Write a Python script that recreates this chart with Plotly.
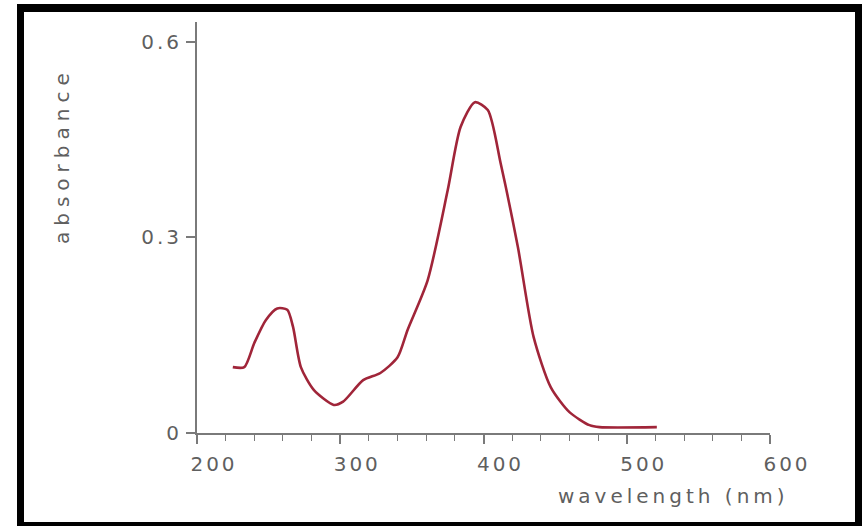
import plotly.graph_objects as go

# Data
wavelength_nm = [225, 233, 240, 248, 256, 263, 267, 272.5, 281.5, 295.5, 302, 316, 328,
                 340, 347, 361, 375, 384, 394, 403, 412, 424, 435, 447, 460, 474, 481, 521]
absorbance = [0.101, 0.101, 0.138, 0.173, 0.191, 0.189, 0.163, 0.101, 0.066, 0.043, 0.048,
              0.081, 0.092, 0.116, 0.158, 0.234, 0.372, 0.469, 0.507, 0.495, 0.413, 0.285,
              0.147, 0.070, 0.032, 0.012, 0.009, 0.009]

x_ticks = [200, 300, 400, 500, 600]
x_tick_labels = ["200", "300", "400", "500", "600"]
y_ticks = [0, 0.3, 0.6]
y_tick_labels = ["0", "0.3", "0.6"]

W, H = 862, 526
L, R, T, B = 197, 770, 22, 433  # plot area in pixels

def px(x):
    return (x - L) / (R - L)

def py(y):
    return (B - y) / (B - T)

fig = go.Figure()
fig.add_trace(go.Scatter(
    x=wavelength_nm, y=absorbance, mode="lines",
    line=dict(color="#a02539", width=2.6, shape="spline", smoothing=0.7),
    hoverinfo="skip", showlegend=False,
))

text_col = "#5f5f5f"
font_tick = dict(family="DejaVu Sans", size=20, color=text_col)
axis_col = "#7a7a7a"

fig.update_xaxes(
    range=[200, 600], tickvals=x_ticks, ticktext=x_tick_labels,
    showline=True, linecolor=axis_col, linewidth=1.8, showgrid=False, zeroline=False,
    ticks="outside", ticklen=9, tickwidth=1.6, tickcolor=axis_col,
    minor=dict(dtick=20, ticks="outside", ticklen=6, tickwidth=1.4, tickcolor=axis_col),
    tickfont=font_tick, ticklabelstandoff=3, ticklabelshift=17,
)
fig.update_yaxes(
    range=[0, 0.63], tickvals=y_ticks, ticktext=y_tick_labels,
    showline=True, linecolor=axis_col, linewidth=1.8, showgrid=False, zeroline=False,
    ticks="outside", ticklen=9, tickwidth=1.6, tickcolor=axis_col,
    tickfont=font_tick, ticklabelstandoff=0,
)

shapes = []
for (x0, x1, y0, y1) in [(17, 24, 4, 526), (855, 862, 4, 526), (17, 862, 4, 12), (17, 862, 522, 526)]:
    shapes.append(dict(type="rect", xref="paper", yref="paper",
                       x0=px(x0), x1=px(x1), y0=py(y1), y1=py(y0),
                       fillcolor="black", line=dict(width=0), layer="above"))

annotations = [
    dict(text="absorbance", xref="paper", yref="paper", x=px(62), y=py(156),
         showarrow=False, textangle=-90, xanchor="center", yanchor="middle",
         font=dict(family="DejaVu Sans", size=20, color=text_col)),
    dict(text="wavelength (nm)", xref="paper", yref="paper", x=px(673), y=py(496),
         showarrow=False, xanchor="center", yanchor="middle",
         font=dict(family="DejaVu Sans", size=20, color=text_col)),
]

fig.update_layout(
    width=W, height=H,
    margin=dict(l=L, r=W - R, t=T, b=H - B, pad=0),
    paper_bgcolor="white", plot_bgcolor="white",
    shapes=shapes, annotations=annotations,
)

post = """
document.body.style.margin = '0';
document.body.style.overflow = 'hidden';
function sp(sel, v) {
  document.querySelectorAll(sel).forEach(function (e) { e.style.letterSpacing = v; });
}
sp('.xtick text', '3px');
sp('.ytick text', '3px');
document.querySelectorAll('.annotation-text').forEach(function (e) {
  if (e.textContent === 'absorbance') { e.style.letterSpacing = '6px'; }
  else { e.style.letterSpacing = '4px'; }
});
"""

fig.write_html("out.html", post_script=post, config={"displayModeBar": False})
